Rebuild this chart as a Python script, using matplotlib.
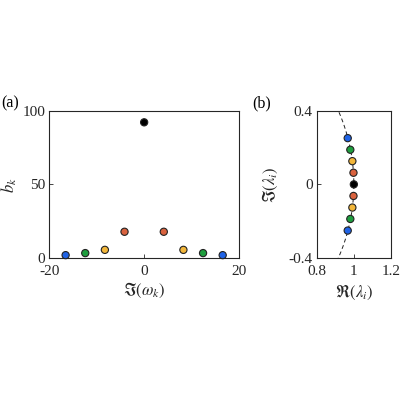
import numpy as np
import matplotlib
matplotlib.use("Agg")
import matplotlib.pyplot as plt

plt.rcParams['font.family'] = ['Liberation Serif', 'DejaVu Serif']
plt.rcParams['mathtext.fontset'] = 'stix'

# Panel (a) data
im_omega = [-16.56, -12.42, -8.28, -4.14, 0.0, 4.14, 8.28, 12.42, 16.56]
b_k = [1.8, 3.2, 5.4, 17.7, 92.1, 17.7, 5.4, 3.2, 1.8]
# Panel (b) data
re_lam = [0.967, 0.981, 0.992, 0.998, 1.0, 0.998, 0.992, 0.981, 0.967]
im_lam = [0.251, 0.188, 0.126, 0.063, 0.0, -0.063, -0.126, -0.188, -0.251]
colors = ['#1f63e6', '#1e9e3e', '#f2b63a', '#d9623e', '#000000',
          '#d9623e', '#f2b63a', '#1e9e3e', '#1f63e6']

fig = plt.figure(figsize=(4, 4), dpi=100)
W, H = 400, 400
def rect(x0, y0, x1, y1):
    return [x0 / W, 1 - y1 / H, (x1 - x0) / W, (y1 - y0) / H]

spine_c = '#262626'
fs = 11
ms = 27

def style(ax):
    for s in ax.spines.values():
        s.set_color(spine_c)
        s.set_linewidth(0.8)
    ax.tick_params(direction='in', length=3, width=0.6, colors=spine_c,
                   labelsize=fs, labelcolor='#262626', top=False, right=False, pad=3)
    ax.tick_params(axis='x', pad=5)

ax1 = fig.add_axes(rect(49.3, 110.7, 239, 257.8))
ax1.scatter(im_omega, b_k, s=ms, c=colors, edgecolors='#222222', linewidths=0.8, zorder=3, clip_on=False)
ax1.set_xlim(-20, 20)
ax1.set_ylim(0, 100)
ax1.set_xticks([-20, 0, 20])
ax1.set_yticks([0, 50, 100])
ax1.set_xticklabels(['-20', '0', '20'])
ax1.set_xlabel(r'$\Im(\omega_k)$', fontsize=fs + 1, color='#262626')
ax1.set_ylabel(r'$b_k$', fontsize=fs + 1, color='#262626')
style(ax1)
ax1.xaxis.set_label_coords(0.5, -(290 - 257.8) / 147.1)
ax1.xaxis.label.set_va('center')
ax1.yaxis.set_label_coords((9 - 49.3) / 189.7, (257.8 - 185) / 147.1)
ax1.yaxis.label.set_va('center')

ax2 = fig.add_axes(rect(316.7, 110.7, 391, 258))
t = np.linspace(-np.pi / 2, np.pi / 2, 400)
ax2.plot(np.cos(t), np.sin(t), '--', color='#222222', lw=0.7, dashes=(4, 3), zorder=2)
ax2.scatter(re_lam, im_lam, s=ms, c=colors, edgecolors='#222222', linewidths=0.8, zorder=3)
ax2.set_xlim(0.8, 1.2)
ax2.set_ylim(-0.4, 0.4)
ax2.set_xticks([0.8, 1.0, 1.2])
ax2.set_xticklabels(['0.8', '1', '1.2'])
ax2.set_yticks([-0.4, 0, 0.4])
ax2.set_yticklabels(['-0.4', '0', '0.4'])
ax2.set_xlabel(r'$\Re(\lambda_i)$', fontsize=fs + 1, color='#262626')
ax2.set_ylabel(r'$\Im(\lambda_i)$', fontsize=fs + 1, color='#262626')
style(ax2)
ax2.xaxis.set_label_coords(0.5, -(292 - 258) / 147.3)
ax2.xaxis.label.set_va('center')
ax2.yaxis.set_label_coords((270 - 316.7) / 74.3, 0.5)
ax2.yaxis.label.set_va('center')

fig.text(1 / W, 1 - 103 / H, '(a)', fontsize=fs + 0.5, va='center', ha='left')
fig.text(252 / W, 1 - 103 / H, '(b)', fontsize=fs + 0.5, va='center', ha='left')

fig.savefig('out.png', dpi=100)
